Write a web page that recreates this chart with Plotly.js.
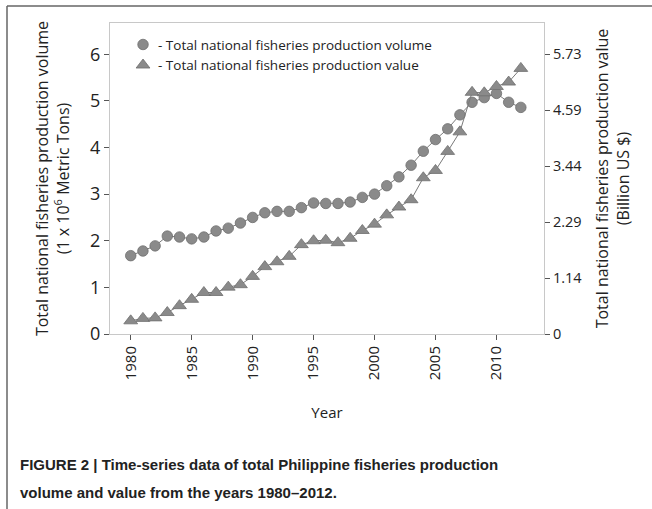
<!DOCTYPE html>
<html>
<head>
<meta charset="utf-8">
<script src="https://cdn.plot.ly/plotly-3.0.1.min.js"></script>
<style>
html,body{margin:0;padding:0;background:#fff;}
#chart{width:652px;height:509px;}
</style>
</head>
<body>
<div id="chart"></div>
<script>
// Data
const years = [1980,1981,1982,1983,1984,1985,1986,1987,1988,1989,1990,1991,1992,1993,1994,1995,1996,1997,1998,1999,2000,2001,2002,2003,2004,2005,2006,2007,2008,2009,2010,2011,2012];
// Production volume (1 x 10^6 metric tons)
const volume = [1.68,1.78,1.89,2.10,2.08,2.04,2.08,2.21,2.27,2.38,2.50,2.60,2.63,2.63,2.71,2.81,2.80,2.80,2.83,2.93,3.00,3.18,3.37,3.62,3.92,4.17,4.40,4.70,4.97,5.07,5.16,4.97,4.86];
// Production value (billion US $)
const value = [0.27,0.32,0.33,0.44,0.58,0.71,0.85,0.85,0.96,1.01,1.18,1.38,1.48,1.59,1.83,1.91,1.92,1.87,1.96,2.12,2.25,2.44,2.60,2.75,3.20,3.35,3.74,4.14,4.95,4.94,5.07,5.16,5.44];
// Axis ticks
const xTicks = [1980,1985,1990,1995,2000,2005,2010];
const leftTicks = [0,1,2,3,4,5,6];
const rightTickVals = [0,1.146,2.292,3.438,4.584,5.73];
const rightTickText = ["0","1.14","2.29","3.44","4.59","5.73"];

const markerFill = '#8a8a8a';
const markerEdge = '#6e6e6e';
const lineCol = '#7a7a7a';
const FONT = 'Open Sans, DejaVu Sans, sans-serif';

const traces = [
  {x: years, y: volume, mode: 'lines', line: {color: lineCol, width: 1}, showlegend: false, hoverinfo: 'skip', yaxis: 'y'},
  {x: years, y: value, mode: 'lines', line: {color: lineCol, width: 1}, showlegend: false, hoverinfo: 'skip', yaxis: 'y2'},
  {x: years, y: volume, mode: 'markers', name: '- Total national fisheries production volume',
   marker: {symbol: 'circle', size: 10.5, color: markerFill, line: {color: markerEdge, width: 0.8}}, yaxis: 'y'},
  {x: years, y: value, mode: 'markers', name: '- Total national fisheries production value',
   marker: {symbol: 'triangle-up', size: 12, color: markerFill, line: {color: markerEdge, width: 0.8}}, yaxis: 'y2'}
];

const axisLine = '#c8c8c8';
const layout = {
  width: 652, height: 509,
  margin: {l: 110, r: 108, t: 23, b: 175},
  paper_bgcolor: '#fff', plot_bgcolor: '#fff',
  font: {family: FONT, color: '#222'},
  showlegend: true,
  legend: {x: 0.03, y: 0.98, xanchor: 'left', yanchor: 'top', bgcolor: 'rgba(0,0,0,0)',
           font: {family: FONT, size: 13.5, color: '#222'}, tracegroupgap: 0, itemsizing: 'trace'},
  xaxis: {
    range: [1978.3, 2013.9], tickvals: xTicks, ticktext: xTicks.map(String), tickangle: -90,
    showgrid: false, zeroline: false, showline: true, linecolor: axisLine, linewidth: 1, mirror: true,
    ticks: 'outside', ticklen: 5, tickcolor: '#555', tickfont: {size: 15, family: FONT, color: '#222'},
    title: {text: 'Year', font: {size: 15, family: FONT, color: '#222'}, standoff: 28}
  },
  yaxis: {
    range: [0, 6.67], tickvals: leftTicks, showgrid: false, zeroline: false,
    showline: true, linecolor: axisLine, linewidth: 1,
    ticks: 'outside', ticklen: 5, tickcolor: '#555', tickfont: {size: 18, family: FONT, color: '#222'},
    title: {text: 'Total national fisheries production volume<br>(1 x 10<sup>6</sup> Metric Tons)',
            font: {size: 16, family: FONT, color: '#222'}, standoff: 16}
  },
  yaxis2: {
    range: [0, 6.67 * 5.73 / 6], overlaying: 'y', side: 'right', tickvals: rightTickVals, ticktext: rightTickText,
    showgrid: false, zeroline: false, showline: true, linecolor: axisLine, linewidth: 1,
    ticks: 'outside', ticklen: 5, tickcolor: '#555', tickfont: {size: 14.5, family: FONT, color: '#222'},
    title: {text: 'Total national fisheries production value<br>(Billion US $)',
            font: {size: 16, family: FONT, color: '#222'}, standoff: 15}
  },
  annotations: [
    {xref: 'paper', yref: 'paper', x: -0.212, y: (334 - 464) / 311, xanchor: 'left', yanchor: 'middle', showarrow: false,
     text: '<b>FIGURE 2 | Time-series data of total Philippine fisheries production</b>',
     font: {family: 'Liberation Sans, Arial, sans-serif', size: 15, color: '#222'}},
    {xref: 'paper', yref: 'paper', x: -0.212, y: (334 - 492) / 311, xanchor: 'left', yanchor: 'middle', showarrow: false,
     text: '<b>volume and value from the years 1980–2012.</b>',
     font: {family: 'Liberation Sans, Arial, sans-serif', size: 15, color: '#222'}}
  ],
  shapes: [
    {type: 'line', xref: 'paper', yref: 'paper', x0: (7 - 110) / 434, x1: (660 - 110) / 434, y0: (334 - 6) / 311, y1: (334 - 6) / 311,
     line: {color: '#666', width: 1.5}},
    {type: 'line', xref: 'paper', yref: 'paper', x0: (7 - 110) / 434, x1: (7 - 110) / 434, y0: (334 - 6) / 311, y1: (334 - 520) / 311,
     line: {color: '#666', width: 1.5}}
  ]
};

Plotly.newPlot('chart', traces, layout, {displayModeBar: false, staticPlot: true}).then(function (gd) {
  // tighten the gap between legend symbol and its text, as in the reference
  gd.querySelectorAll('.legendtext').forEach(function (t) { t.setAttribute('x', 35); });
});
</script>
</body>
</html>
